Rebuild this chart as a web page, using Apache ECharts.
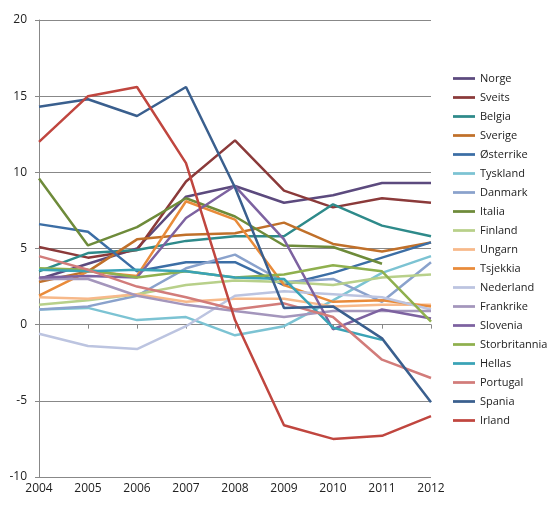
<!DOCTYPE html>
<html>
<head>
<meta charset="utf-8">
<script src="https://cdn.jsdelivr.net/npm/echarts@6/dist/echarts.min.js"></script>
<style>html,body{margin:0;background:#fff}#c{width:560px;height:520px}</style>
</head>
<body>
<div id="c"></div>
<script>
var years = ['2004','2005','2006','2007','2008','2009','2010','2011','2012'];
var countries = ['Norge','Sveits','Belgia','Sverige','Østerrike','Tyskland','Danmark','Italia','Finland','Ungarn','Tsjekkia','Nederland','Frankrike','Slovenia','Storbritannia','Hellas','Portugal','Spania','Irland'];
var colors = ['#5C4A7E','#8B3A3A','#2E8A8A','#C0702A','#3C6EA5','#7CC3D3','#8AA2CC','#6E8B3A','#B8D08A','#F7B98A','#E98B3A','#BCC4E0','#A496BC','#7D62A0','#8FB04E','#3AA3B6','#D27C7A','#3A5F8E','#C0463F'];
var values = [
  [3.0, 4.0, 5.0, 8.4, 9.1, 8.0, 8.5, 9.3, 9.3],
  [5.1, 4.4, 4.9, 9.4, 12.1, 8.8, 7.7, 8.3, 8.0],
  [3.5, 4.7, 4.9, 5.5, 5.8, 5.8, 7.9, 6.5, 5.8],
  [2.8, 3.5, 5.6, 5.9, 6.0, 6.7, 5.3, 4.8, 5.4],
  [6.6, 6.1, 3.5, 4.1, 4.1, 2.6, 3.4, 4.4, 5.4],
  [1.0, 1.1, 0.3, 0.5, -0.7, -0.1, 1.6, 3.4, 4.5],
  [1.0, 1.2, 1.9, 3.7, 4.6, 2.8, 3.0, 1.5, 4.1],
  [9.6, 5.2, 6.4, 8.3, 7.1, 5.2, 5.1, 4.0, null],
  [1.3, 1.6, 2.0, 2.6, 2.9, 2.8, 2.6, 3.1, 3.3],
  [1.8, 1.7, 2.0, 1.5, 1.7, 1.7, 1.2, 1.3, 1.3],
  [1.9, 3.5, 3.2, 8.1, 6.9, 2.6, 1.5, 1.6, 1.2],
  [-0.6, -1.4, -1.6, -0.1, 1.9, 2.2, 2.0, 1.8, 1.0],
  [3.0, 3.0, 1.9, 1.3, 0.9, 0.5, 0.9, 0.9, 0.9],
  [3.1, 3.2, 3.1, 7.0, 9.1, 5.6, -0.3, 1.0, 0.4],
  [3.7, 3.6, 3.1, 3.5, 3.1, 3.3, 3.9, 3.5, 0.2],
  [3.6, 3.5, 3.6, 3.5, 3.1, 3.0, -0.2, -1.0, null],
  [4.5, 3.6, 2.5, 1.8, 1.0, 1.4, 0.5, -2.3, -3.5],
  [14.3, 14.8, 13.7, 15.6, 9.0, 1.1, 1.2, -0.9, -5.1],
  [12.0, 15.0, 15.6, 10.6, 0.3, -6.6, -7.5, -7.3, -6.0]
];

var chart = echarts.init(document.getElementById('c'));
chart.setOption({
  animation: false,
  color: colors,
  textStyle: {fontFamily: 'Open Sans, DejaVu Sans, sans-serif'},
  grid: {left: 39, right: 129, top: 20, bottom: 43},
  legend: {
    orient: 'vertical', left: 448, top: 68, itemGap: 8,
    itemWidth: 22, itemHeight: 14,
    data: countries.map(function (n) { return {name: n, icon: 'path://M0,6H24V9H0Z'}; }),
    textStyle: {fontSize: 11, color: '#222', height: 14}
  },
  xAxis: {
    type: 'category', data: years, boundaryGap: false,
    axisLine: {onZero: true, lineStyle: {color: '#888'}},
    axisTick: {show: true, length: 4, lineStyle: {color: '#888'}},
    axisLabel: {color: '#222', fontSize: 12, margin: 6}
  },
  yAxis: {
    type: 'value', min: -10, max: 20, interval: 5,
    axisLine: {show: true, lineStyle: {color: '#888'}},
    axisTick: {show: true, length: 4, lineStyle: {color: '#888'}},
    splitLine: {lineStyle: {color: '#888'}},
    axisLabel: {color: '#222', fontSize: 12, margin: 12}
  },
  series: countries.map(function (n, i) {
    return {name: n, type: 'line', data: values[i], symbol: 'none', lineStyle: {width: 2.5}};
  })
});
</script>
</body>
</html>
